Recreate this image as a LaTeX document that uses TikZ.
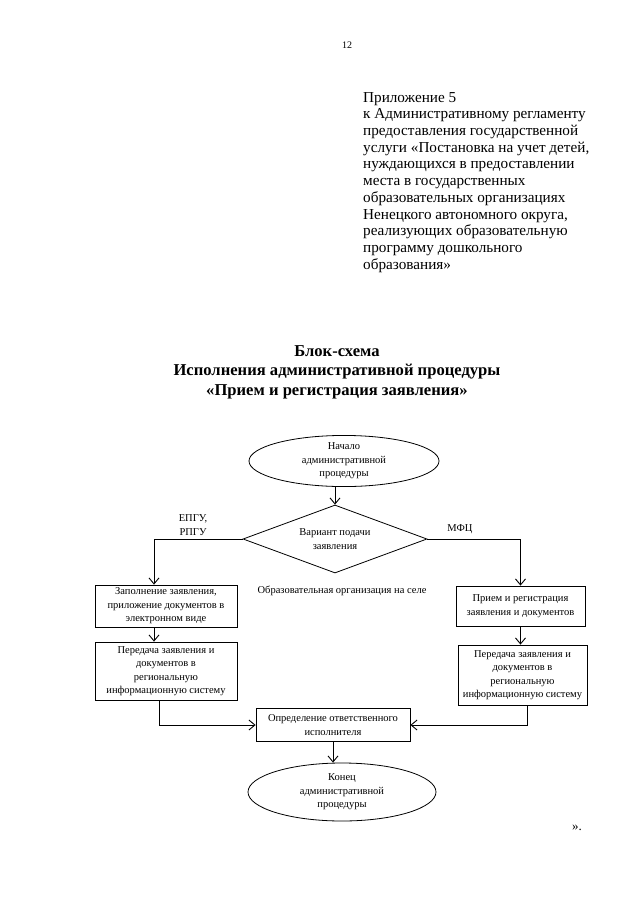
\documentclass[tikz,border=0pt]{standalone}
\usepackage{fontspec}
\setmainfont{Liberation Serif}
\usetikzlibrary{shapes.geometric,arrows.meta}
\begin{document}
\begin{tikzpicture}[x=1pt,y=-1pt,
  every node/.style={inner sep=0pt},
  small/.style={font=\fontsize{10.5}{13.5}\selectfont, align=center},
  proc/.style={small, draw, line width=0.8pt, rectangle},
  term/.style={small, draw, line width=0.8pt, ellipse},
  conn/.style={line width=0.8pt, -{Straight Barb[length=6pt,width=10pt,line width=0.9pt]}},
  plain/.style={line width=0.8pt}]
\useasboundingbox (0,0) rectangle (640,906);
\fill[white] (0,0) rectangle (640,906);

\node[font=\fontsize{10}{12}\selectfont] (pg) at (347,45) {12};
\node[anchor=north west, align=left, font=\fontsize{15.2}{16.7}\selectfont] (app) at (363,92)
 {Приложение 5\\
  к Административному регламенту\\
  предоставления государственной\\
  услуги «Постановка на учет детей,\\
  нуждающихся в предоставлении\\
  места в государственных\\
  образовательных организациях\\
  Ненецкого автономного округа,\\
  реализующих образовательную\\
  программу дошкольного\\
  образования»};

\node[align=center, font=\bfseries\fontsize{16.6}{19.5}\selectfont] (title) at (337,372)
 {Блок-схема\\Исполнения административной процедуры\\«Прием и регистрация заявления»};

\node[term, minimum width=190pt, minimum height=50pt] (start) at (344,461)
 {Начало\\административной\\процедуры};
\node[small, draw, line width=0.8pt, diamond, minimum width=184pt, minimum height=68pt, aspect=2.7] (dia) at (335,539)
 {Вариант подачи\\заявления};

\node[proc, minimum width=142pt, minimum height=42pt] (b1) at (166,606)
 {Заполнение заявления,\\приложение документов в\\электронном виде};
\node[proc, minimum width=142pt, minimum height=58pt] (b2) at (166,671)
 {Передача заявления и\\документов в\\региональную\\информационную систему};
\node[proc, minimum width=129pt, minimum height=40pt] (r1) at (520.5,606)
 {Прием и регистрация\\заявления и документов};
\node[proc, minimum width=129pt, minimum height=60pt] (r2) at (522.5,675)
 {Передача заявления и\\документов в\\региональную\\информационную систему};
\node[proc, minimum width=154pt, minimum height=33pt] (c) at (333,725)
 {Определение ответственного\\исполнителя};
\node[term, minimum width=188pt, minimum height=58pt] (end) at (342,792)
 {Конец\\административной\\процедуры};

\node[small] (lbl1) at (193,525) {ЕПГУ,\\РПГУ};
\node[small] (lbl2) at (460,529) {МФЦ};
\node[small] (lbl3) at (342,591) {Образовательная организация на селе};
\node[font=\fontsize{13}{15}\selectfont] (q) at (577,828) {».};

\coordinate (lc) at (154,539);
\draw[conn] (dia.north |- start.south) -- (dia.north);
\draw[conn] (dia.west) -- (lc) -- (lc |- b1.north);
\draw[conn] (dia.east) -| (r1.north);
\draw[conn] (b1.south -| lc) -- (b2.north -| lc);
\draw[conn] ([xshift=-7pt]b2.south) |- (c.west);
\draw[conn] (r1.south) -- (r1.south |- r2.north);
\draw[conn] ([xshift=5pt]r2.south) |- (c.east);
\draw[conn] (c.south) -- (c.south |- end.north);
\end{tikzpicture}
\end{document}
